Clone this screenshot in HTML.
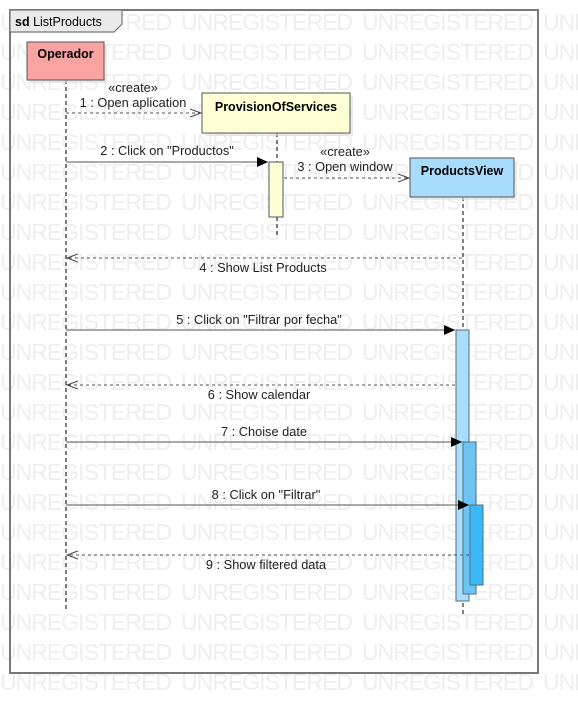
<!DOCTYPE html>
<html><head><meta charset="utf-8"><style>html,body{margin:0;padding:0;background:#fff}svg{display:block}</style></head>
<body>
<svg width="578" height="714" xmlns="http://www.w3.org/2000/svg" font-family="Liberation Sans, sans-serif">
<defs>
<marker id="f" markerWidth="12" markerHeight="10" refX="11" refY="5" orient="auto" markerUnits="userSpaceOnUse"><path d="M0,0 L11,5 L0,10 z" fill="#000"/></marker>
<marker id="o" markerWidth="12" markerHeight="10" refX="11" refY="5" orient="auto" markerUnits="userSpaceOnUse"><path d="M0,1 L11,5 L0,9" fill="none" stroke="#444" stroke-width="1"/></marker>
</defs>
<g fill="#eeeeee" font-size="23">
<text x="0" y="30" textLength="172">UNREGISTERED</text><text x="181" y="30" textLength="172">UNREGISTERED</text><text x="362" y="30" textLength="172">UNREGISTERED</text><text x="543" y="30" textLength="172">UNREGISTERED</text>
<text x="0" y="60" textLength="172">UNREGISTERED</text><text x="181" y="60" textLength="172">UNREGISTERED</text><text x="362" y="60" textLength="172">UNREGISTERED</text><text x="543" y="60" textLength="172">UNREGISTERED</text>
<text x="0" y="90" textLength="172">UNREGISTERED</text><text x="181" y="90" textLength="172">UNREGISTERED</text><text x="362" y="90" textLength="172">UNREGISTERED</text><text x="543" y="90" textLength="172">UNREGISTERED</text>
<text x="0" y="120" textLength="172">UNREGISTERED</text><text x="181" y="120" textLength="172">UNREGISTERED</text><text x="362" y="120" textLength="172">UNREGISTERED</text><text x="543" y="120" textLength="172">UNREGISTERED</text>
<text x="0" y="150" textLength="172">UNREGISTERED</text><text x="181" y="150" textLength="172">UNREGISTERED</text><text x="362" y="150" textLength="172">UNREGISTERED</text><text x="543" y="150" textLength="172">UNREGISTERED</text>
<text x="0" y="180" textLength="172">UNREGISTERED</text><text x="181" y="180" textLength="172">UNREGISTERED</text><text x="362" y="180" textLength="172">UNREGISTERED</text><text x="543" y="180" textLength="172">UNREGISTERED</text>
<text x="0" y="210" textLength="172">UNREGISTERED</text><text x="181" y="210" textLength="172">UNREGISTERED</text><text x="362" y="210" textLength="172">UNREGISTERED</text><text x="543" y="210" textLength="172">UNREGISTERED</text>
<text x="0" y="240" textLength="172">UNREGISTERED</text><text x="181" y="240" textLength="172">UNREGISTERED</text><text x="362" y="240" textLength="172">UNREGISTERED</text><text x="543" y="240" textLength="172">UNREGISTERED</text>
<text x="0" y="270" textLength="172">UNREGISTERED</text><text x="181" y="270" textLength="172">UNREGISTERED</text><text x="362" y="270" textLength="172">UNREGISTERED</text><text x="543" y="270" textLength="172">UNREGISTERED</text>
<text x="0" y="300" textLength="172">UNREGISTERED</text><text x="181" y="300" textLength="172">UNREGISTERED</text><text x="362" y="300" textLength="172">UNREGISTERED</text><text x="543" y="300" textLength="172">UNREGISTERED</text>
<text x="0" y="330" textLength="172">UNREGISTERED</text><text x="181" y="330" textLength="172">UNREGISTERED</text><text x="362" y="330" textLength="172">UNREGISTERED</text><text x="543" y="330" textLength="172">UNREGISTERED</text>
<text x="0" y="360" textLength="172">UNREGISTERED</text><text x="181" y="360" textLength="172">UNREGISTERED</text><text x="362" y="360" textLength="172">UNREGISTERED</text><text x="543" y="360" textLength="172">UNREGISTERED</text>
<text x="0" y="390" textLength="172">UNREGISTERED</text><text x="181" y="390" textLength="172">UNREGISTERED</text><text x="362" y="390" textLength="172">UNREGISTERED</text><text x="543" y="390" textLength="172">UNREGISTERED</text>
<text x="0" y="420" textLength="172">UNREGISTERED</text><text x="181" y="420" textLength="172">UNREGISTERED</text><text x="362" y="420" textLength="172">UNREGISTERED</text><text x="543" y="420" textLength="172">UNREGISTERED</text>
<text x="0" y="450" textLength="172">UNREGISTERED</text><text x="181" y="450" textLength="172">UNREGISTERED</text><text x="362" y="450" textLength="172">UNREGISTERED</text><text x="543" y="450" textLength="172">UNREGISTERED</text>
<text x="0" y="480" textLength="172">UNREGISTERED</text><text x="181" y="480" textLength="172">UNREGISTERED</text><text x="362" y="480" textLength="172">UNREGISTERED</text><text x="543" y="480" textLength="172">UNREGISTERED</text>
<text x="0" y="510" textLength="172">UNREGISTERED</text><text x="181" y="510" textLength="172">UNREGISTERED</text><text x="362" y="510" textLength="172">UNREGISTERED</text><text x="543" y="510" textLength="172">UNREGISTERED</text>
<text x="0" y="540" textLength="172">UNREGISTERED</text><text x="181" y="540" textLength="172">UNREGISTERED</text><text x="362" y="540" textLength="172">UNREGISTERED</text><text x="543" y="540" textLength="172">UNREGISTERED</text>
<text x="0" y="570" textLength="172">UNREGISTERED</text><text x="181" y="570" textLength="172">UNREGISTERED</text><text x="362" y="570" textLength="172">UNREGISTERED</text><text x="543" y="570" textLength="172">UNREGISTERED</text>
<text x="0" y="600" textLength="172">UNREGISTERED</text><text x="181" y="600" textLength="172">UNREGISTERED</text><text x="362" y="600" textLength="172">UNREGISTERED</text><text x="543" y="600" textLength="172">UNREGISTERED</text>
<text x="0" y="630" textLength="172">UNREGISTERED</text><text x="181" y="630" textLength="172">UNREGISTERED</text><text x="362" y="630" textLength="172">UNREGISTERED</text><text x="543" y="630" textLength="172">UNREGISTERED</text>
<text x="0" y="660" textLength="172">UNREGISTERED</text><text x="181" y="660" textLength="172">UNREGISTERED</text><text x="362" y="660" textLength="172">UNREGISTERED</text><text x="543" y="660" textLength="172">UNREGISTERED</text>
<text x="0" y="690" textLength="172">UNREGISTERED</text><text x="181" y="690" textLength="172">UNREGISTERED</text><text x="362" y="690" textLength="172">UNREGISTERED</text><text x="543" y="690" textLength="172">UNREGISTERED</text>
</g>

<rect x="10" y="10" width="528" height="663" fill="none" stroke="#777" stroke-width="2"/>
<path d="M10,10 H122 V24 L114,32 H10 Z" fill="#eaeaea" stroke="#777" stroke-width="1.2"/>
<text x="15" y="26" font-size="12.5"><tspan font-weight="bold">sd</tspan> ListProducts</text>

<g stroke="#000" stroke-width="1" stroke-dasharray="4,3">
<line x1="66" y1="80" x2="66" y2="612"/>
<line x1="277" y1="133" x2="277" y2="238"/>
<line x1="463" y1="197" x2="463" y2="614"/>
</g>

<rect x="30" y="45" width="77" height="38" fill="#ddd" opacity=".6"/>
<rect x="27" y="42" width="77" height="38" fill="#f9a3a3" stroke="#555"/>
<text x="65.5" y="58" font-size="12.5" font-weight="bold" text-anchor="middle">Operador</text>

<rect x="205" y="96" width="148" height="40" fill="#ddd" opacity=".6"/>
<rect x="202" y="93" width="148" height="40" fill="#ffffd6" stroke="#555"/>
<text x="276" y="111" font-size="12.5" font-weight="bold" text-anchor="middle">ProvisionOfServices</text>

<rect x="413" y="161" width="104" height="39" fill="#ddd" opacity=".6"/>
<rect x="410" y="158" width="104" height="39" fill="#a8dcfc" stroke="#555"/>
<text x="462" y="175" font-size="12.5" font-weight="bold" text-anchor="middle">ProductsView</text>

<rect x="269" y="162" width="14" height="55" fill="#ffffd6" stroke="#555"/>
<rect x="456" y="330" width="13" height="271" fill="#a9ddfb" stroke="#4f6f80"/>
<rect x="463" y="442" width="13" height="152" fill="#6cc4f5" stroke="#4f6f80"/>
<rect x="470" y="505" width="13" height="80" fill="#3bb8f8" stroke="#4f6f80"/>

<g font-size="12.8" fill="#222" text-anchor="middle">
<line x1="66" y1="113" x2="201" y2="113" stroke="#555" stroke-dasharray="3,3" marker-end="url(#o)"/>
<text x="133" y="92">«create»</text>
<text x="133" y="107">1 : Open aplication</text>

<line x1="66" y1="162" x2="268" y2="162" stroke="#555" marker-end="url(#f)"/>
<text x="167" y="155">2 : Click on "Productos"</text>

<line x1="284" y1="178" x2="409" y2="178" stroke="#555" stroke-dasharray="3,3" marker-end="url(#o)"/>
<text x="345" y="156">«create»</text>
<text x="345" y="171">3 : Open window</text>

<line x1="462" y1="258" x2="67" y2="258" stroke="#555" stroke-dasharray="3,3" marker-end="url(#o)"/>
<text x="263" y="272">4 : Show List Products</text>

<line x1="66" y1="330" x2="455" y2="330" stroke="#555" marker-end="url(#f)"/>
<text x="259" y="324">5 : Click on "Filtrar por fecha"</text>

<line x1="455" y1="385" x2="67" y2="385" stroke="#555" stroke-dasharray="3,3" marker-end="url(#o)"/>
<text x="259" y="399">6 : Show calendar</text>

<line x1="66" y1="442" x2="462" y2="442" stroke="#555" marker-end="url(#f)"/>
<text x="264" y="436">7 : Choise date</text>

<line x1="66" y1="505" x2="469" y2="505" stroke="#555" marker-end="url(#f)"/>
<text x="266" y="499">8 : Click on "Filtrar"</text>

<line x1="469" y1="555" x2="67" y2="555" stroke="#555" stroke-dasharray="3,3" marker-end="url(#o)"/>
<text x="266" y="569">9 : Show filtered data</text>
</g>
</svg>
</body></html>
